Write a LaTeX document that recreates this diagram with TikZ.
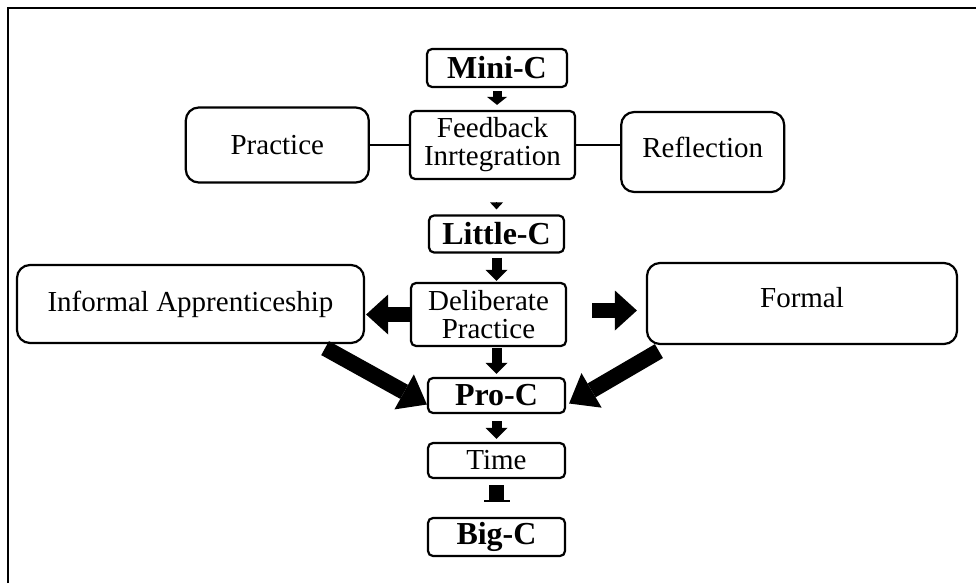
\documentclass[tikz,border=0pt]{standalone}
\usepackage{fontspec}
\setmainfont{Liberation Serif}
\usetikzlibrary{positioning,arrows.meta}
\def\gapL{39pt}
\def\gapR{44pt}
\tikzstyle{stage}=[draw,line width=2.2pt,rounded corners=5pt,inner sep=1pt,
  align=center,font=\fontsize{29}{28}\selectfont]
\tikzstyle{grade}=[stage,font=\fontsize{32}{32}\selectfont\bfseries]
\tikzstyle{wing}=[stage,rounded corners=13pt]
\tikzstyle{flow}=[line width=10pt,-{Triangle[length=11pt,width=22pt,line width=0pt]}]
\tikzstyle{push}=[line width=15pt,-{Triangle[length=22pt,width=40pt,line width=0pt]}]
\tikzstyle{merge}=[line width=16pt,-{Triangle[length=26pt,width=40pt,line width=0pt]}]
\begin{document}
\begin{tikzpicture}[x=1pt,y=-1pt]
  \useasboundingbox (0,0) rectangle (976,583);
  \draw[line width=2pt] (8,583) -- (8,8) -- (976,8);

  % top part
  \node[grade,minimum width=140pt,minimum height=38pt] (mini) at (497,68) {Mini-C};
  \node[stage,minimum width=165pt,minimum height=68pt] (fb) at (492.5,145) {Feedback\\Inrtegration};
  \node[wing,minimum width=183pt,minimum height=75pt,left=\gapL of fb] (prac) {Practice};
  \node[wing,minimum width=163pt,minimum height=80pt,text depth=10pt,
        right=\gapR of fb,yshift=-7pt] (refl) {Reflection};
  \node[grade,minimum width=135pt,minimum height=37pt] (lc) at (496.5,234) {Little-C};

  % middle part
  \node[stage,minimum width=155pt,minimum height=63pt] (delib) at (488.5,314.5) {Deliberate\\Practice};
  \node[wing,minimum width=347pt,minimum height=78pt] (inf) at (190.5,304) {Informal Apprenticeship};
  \node[wing,minimum width=310pt,minimum height=81pt,text depth=13pt] (formal) at (802,303.5) {Formal};

  % bottom part
  \node[grade,minimum width=137pt,minimum height=35pt] (pro) at (496.5,395.5) {Pro-C};
  \node[stage,minimum width=137pt,minimum height=35pt] (time) at (496.5,460.5) {Time};
  \node[grade,minimum width=137pt,minimum height=38pt] (big) at (496.5,537) {Big-C};

  \draw[line width=1.2pt] (prac.east) -- (fb.west);
  \draw[line width=1.2pt] (fb.east) -- (fb.east -| refl.west);
  \draw[line width=9pt,-{Triangle[length=8pt,width=20pt,line width=0pt]},
        shorten <=3pt,shorten >=5pt] (mini.south) -- (mini.south |- fb.north);
  \draw[line width=0.1pt,-{Triangle[length=7pt,width=13pt,line width=0pt]},
        shorten <=23pt,shorten >=5pt] (fb.south -| lc.north) -- (lc.north);
  \draw[flow,shorten <=4pt,shorten >=1pt] (lc.south) -- (lc.south |- delib.north);
  \draw[push,shorten >=1pt] (delib.west) -- (delib.west -| inf.east);
  \draw[push,shorten <=25pt,shorten >=9pt] ([yshift=4pt]delib.east) -- ([yshift=4pt]delib.east -| formal.west);
  \draw[merge] ([xshift=-40pt,yshift=-4pt]inf.south east) -- ([yshift=-9pt]pro.west);
  \draw[merge] ([xshift=13pt,yshift=-6pt]formal.south west) -- ([xshift=3pt,yshift=-8pt]pro.east);
  \draw[flow,shorten <=1pt,shorten >=3pt] (delib.south -| pro.north) -- (pro.north);
  \draw[flow,shorten <=7pt,shorten >=3pt] (pro) -- (time);
  \draw[line width=15pt,-{Bar[width=26pt,line width=2pt]},shorten <=6pt,shorten >=15pt] (time) -- (big);
\end{tikzpicture}
\end{document}
